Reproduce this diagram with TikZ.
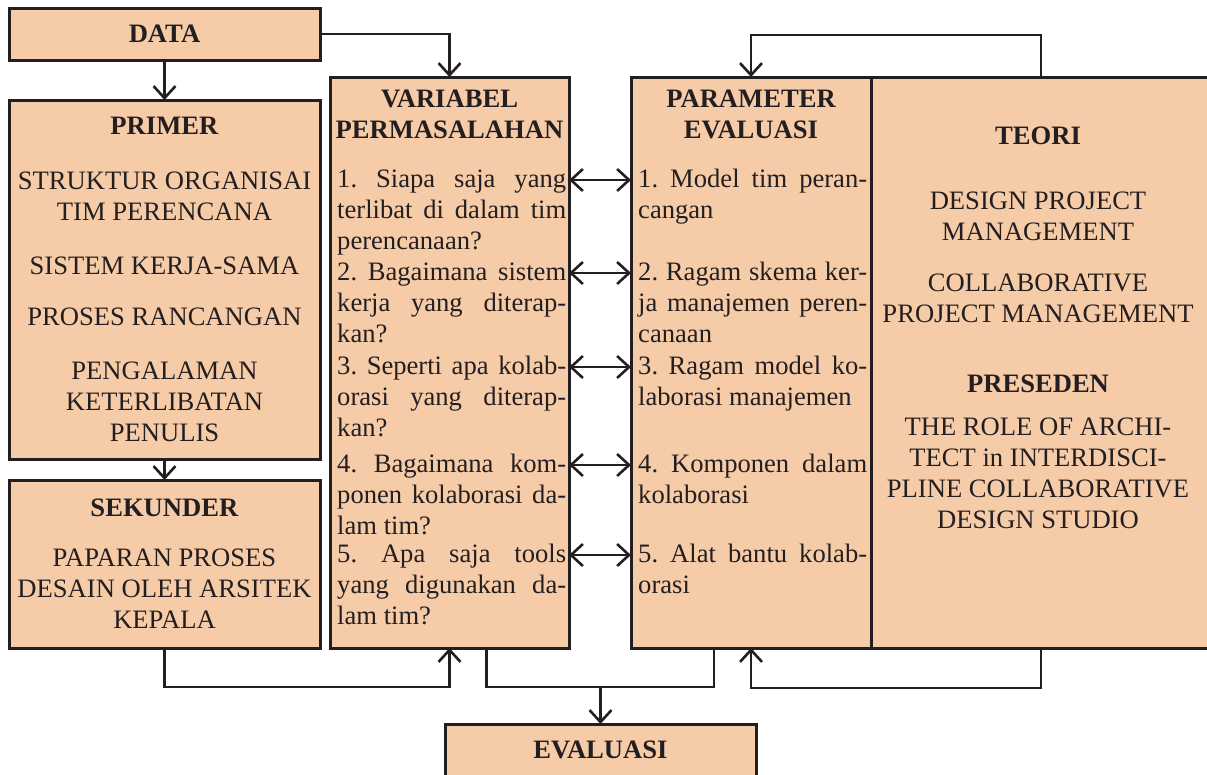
\documentclass[tikz,border=0pt]{standalone}
\usepackage{fontspec}
\setmainfont{Liberation Serif}
\usepackage{xcolor}
\usetikzlibrary{arrows.meta, positioning}
\definecolor{boxfill}{HTML}{F6CBA8}
\definecolor{ink}{HTML}{231F20}

\begin{document}
\begin{tikzpicture}[
		x=1pt, y=1pt,
		font=\fontsize{26.6}{31}\selectfont\frenchspacing,
		box/.style={rectangle, draw=ink, line width=3pt, fill=boxfill, inner sep=0pt, outer sep=0pt, align=center, text=ink},
		head/.style={inner sep=0pt, align=center, font=\fontsize{26.6}{31}\selectfont\bfseries, text=ink},
		plain/.style={inner sep=0pt, align=center, text=ink},
		item/.style={anchor=base west, inner sep=0pt, text width=229pt, align=justify, xshift=7pt, yshift=-7pt, text=ink},
		arrow/.style={-{Straight Barb[length=12pt, width=22pt]}, line width=2.6pt, draw=ink},
		link/.style={line width=2.6pt, draw=ink},
		both/.style={{Straight Barb[length=12pt, width=22pt]}-{Straight Barb[length=12pt, width=22pt]}, line width=2.6pt, draw=ink}
		]
		\useasboundingbox (0,0) rectangle (1207,-774);
		% Nodes
		\node[box, anchor=north west, minimum width=311pt, minimum height=52pt] (data) at (9,-8) {\textbf{DATA}};
		\node[box, minimum width=311pt, minimum height=359pt] (primer) [below=40pt of data] {\textbf{PRIMER}\\[24pt]STRUKTUR ORGANISAI\\TIM PERENCANA\\[23pt]SISTEM KERJA-SAMA\\[20pt]PROSES RANCANGAN\\[23pt]PENGALAMAN\\KETERLIBATAN\\PENULIS};
		\node[box, minimum width=311pt, minimum height=168pt] (sekunder) [below=21pt of primer] {\textbf{SEKUNDER}\\[19pt]PAPARAN PROSES\\DESAIN OLEH ARSITEK\\KEPALA};
		\node[box, anchor=north west, minimum width=239pt, minimum height=571pt] (variabel) at (330,-77) {};
		\node[box, minimum width=240pt, minimum height=571pt] (param) [right=62pt of variabel] {};
		\node[box, minimum width=340pt, minimum height=571pt] (teori) [right=0pt of param] {};
		\node[box, anchor=north west, minimum width=311pt, minimum height=52pt] (eval) at (445,-724) {\textbf{EVALUASI}};
		
		\node[head, anchor=north] (varhead) at ([yshift=-13pt]variabel.north) {VARIABEL\\PERMASALAHAN};
		\node[head, anchor=north] (paramhead) at ([yshift=-13pt]param.north) {PARAMETER\\EVALUASI};
		\node[plain, anchor=north, xshift=-3pt] (teoritext) at ([yshift=-50pt]teori.north) {\textbf{TEORI}\\[34pt]DESIGN PROJECT\\MANAGEMENT\\[20pt]COLLABORATIVE\\PROJECT MANAGEMENT\\[39pt]\textbf{PRESEDEN}\\[12pt]THE ROLE OF ARCHI-\\TECT in INTERDISCI-\\PLINE COLLABORATIVE\\DESIGN STUDIO};
		
		% Rows of questions and parameters
		\foreach \y [count=\i] in {180,273,367,465,555}
			\coordinate (r\i) at (600,-\y);
		\node[item] (var1) at (variabel.west |- r1) {1. Siapa saja yang\linebreak terlibat di dalam tim\linebreak perencanaan?};
		\node[item] (var2) at (variabel.west |- r2) {2. Bagaimana sistem\linebreak kerja yang diterap-\linebreak kan?};
		\node[item] (var3) at (variabel.west |- r3) {3. Seperti apa kolab-\linebreak orasi yang diterap-\linebreak kan?};
		\node[item] (var4) at (variabel.west |- r4) {4. Bagaimana kom-\linebreak ponen kolaborasi da-\linebreak lam tim?};
		\node[item] (var5) at (variabel.west |- r5) {5. Apa saja tools\linebreak yang digunakan da-\linebreak lam tim?};
		\node[item] (par1) at (param.west |- r1) {1. Model tim peran-\linebreak cangan};
		\node[item] (par2) at (param.west |- r2) {2. Ragam skema ker-\linebreak ja manajemen peren-\linebreak canaan};
		\node[item] (par3) at (param.west |- r3) {3. Ragam model ko-\linebreak laborasi manajemen};
		\node[item] (par4) at (param.west |- r4) {4. Komponen dalam\linebreak kolaborasi};
		\node[item] (par5) at (param.west |- r5) {5. Alat bantu kolab-\linebreak orasi};
		
		% Arrows
		\draw[arrow] (data) -- (primer);
		\draw[arrow] (data.east) -| (variabel.north);
		\draw[arrow] (primer) -- (sekunder);
		\draw[arrow] (sekunder.south) -- ++(0,-39) -| (variabel.south);
		\foreach \i in {1,...,5}
			\draw[both] (variabel.east |- r\i) -- (param.west |- r\i);
		\coordinate (junc) at ([yshift=37pt]eval.north);
		\draw[link] ([xshift=37pt]variabel.south) |- (junc) -| ([xshift=-37pt]param.south);
		\draw[arrow] (junc) -- (eval);
		\draw[arrow] (teori.north) -- ++(0,42) -| (param.north);
		\draw[arrow] (teori.south) -- ++(0,-40) -| (param.south);
	\end{tikzpicture}
\end{document}
